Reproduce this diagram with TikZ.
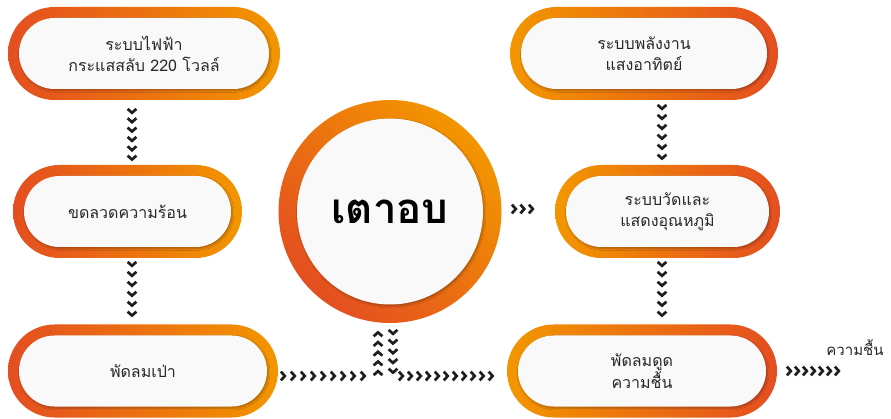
\documentclass[tikz,border=0pt]{standalone}
\usepackage{fontspec}
\newfontfamily\thai[Script=Thai]{Loma}
\usetikzlibrary{shapes.misc,decorations.markings,shadows.blur,calc}
\definecolor{cR}{RGB}{228,78,32}
\definecolor{cY}{RGB}{243,150,0}
\definecolor{cIn}{RGB}{249,249,249}
\definecolor{cChev}{RGB}{30,30,30}
\definecolor{cTxt}{RGB}{40,40,40}
\tikzset{
  ringout/.style={rounded rectangle, inner sep=0pt, outer sep=0pt, draw=none},
  ringin/.style={rounded rectangle, inner sep=0pt, outer sep=0pt, fill=cIn, text=cTxt,
    font=\thai\fontsize{16}{21}\selectfont, align=center,
    blur shadow={shadow xshift=1.2pt, shadow yshift=-1.6pt, shadow blur steps=6, shadow opacity=28}},
  chevs/.style={decoration={markings, mark=between positions 0 and 1 step #1 with
    {\draw[cChev, line width=2.7pt, line cap=butt, line join=miter] (-3.1pt,4.4pt) -- (0.8pt,0pt) -- (-3.1pt,-4.4pt);}}, decorate}
}
\begin{document}
\begin{tikzpicture}[x=1pt,y=-1pt]
\useasboundingbox (0,0) rectangle (891,419);
\fill[white] (0,0) rectangle (891,419);
% left column
\node[ringout, minimum width=272pt, minimum height=93pt, left color=cR, right color=cY] (p1o) at (144,53.5) {};
\node[ringin, minimum width=250pt, minimum height=71pt] (p1) at (p1o) {ระบบไฟฟ้า\\กระแสสลับ 220 โวลล์};
\node[ringout, minimum width=229pt, minimum height=93pt, left color=cR, right color=cY] (p2o) at (127.5,211.5) {};
\node[ringin, minimum width=207pt, minimum height=71pt] (p2) at (p2o) {ขดลวดความร้อน};
\node[ringout, minimum width=270pt, minimum height=93pt, left color=cR, right color=cY] (p3o) at (143,371) {};
\node[ringin, minimum width=248pt, minimum height=71pt] (p3) at (p3o) {พัดลมเป่า};
% right column
\node[ringout, minimum width=268pt, minimum height=93pt, left color=cY, right color=cR] (p4o) at (644,53.5) {};
\node[ringin, minimum width=246pt, minimum height=71pt] (p4) at (p4o) {ระบบพลังงาน\\แสงอาทิตย์};
\node[ringout, minimum width=225pt, minimum height=93pt, left color=cY, right color=cR] (p5o) at (667.5,211.5) {};
\node[ringin, minimum width=203pt, minimum height=71pt] (p5) at (p5o) {ระบบวัดและ\\แสดงอุณหภูมิ};
\node[ringout, minimum width=270pt, minimum height=93pt, left color=cY, right color=cR] (p6o) at (642,371) {};
\node[ringin, minimum width=248pt, minimum height=71pt] (p6) at (p6o) {พัดลมดูด\\ความชื้น};
% oven
\node[circle, inner sep=0pt, outer sep=0pt, minimum size=223pt, shading=axis, top color=cY, bottom color=cR, shading angle=-45] (co) at (390,211.5) {};
\node[circle, inner sep=0pt, outer sep=0pt, minimum size=186pt, fill=cIn, text=black,
  blur shadow={shadow xshift=1.2pt, shadow yshift=-1.6pt, shadow blur steps=6, shadow opacity=28},
  font=\thai\bfseries\fontsize{42}{46}\selectfont] (oven) at (co) {เตาอบ};
% label
\node[font=\thai\fontsize{15}{18}\selectfont, text=cTxt, inner sep=0pt] (hum) at (855,348) {ความชื้น};
% coordinates of chevron columns
\coordinate (colL) at (132,0);
\coordinate (colR) at (662,0);
\coordinate (rowB) at (0,376);
\coordinate (upC) at (378,0);
\coordinate (dnC) at (393,0);
% chains
\path[chevs=9.35pt] ($(p1o.south -| colL)+(0,12)$) -- ($(p2o.north -| colL)+(0,-6)$);
\path[chevs=9.95pt] ($(p2o.south -| colL)+(0,7)$) -- ($(p3o.north -| colL)+(0,-9.5)$);
\path[chevs=9.95pt] ($(p4o.south -| colR)+(0,8)$) -- ($(p5o.north -| colR)+(0,-7)$);
\path[chevs=9.95pt] ($(p5o.south -| colR)+(0,7)$) -- ($(p6o.north -| colR)+(0,-9.5)$);
% bottom T junction
\path[chevs=9.98pt] ($(p3o.east |- rowB)+(6,0)$) -- ($(upC |- rowB)+(-14,0)$);
\path[chevs=9.7pt] ($(upC |- rowB)+(0,-4)$) -- ($(upC |- co.south)+(0,10)$);
\path[chevs=9.7pt] ($(dnC |- co.south)+(0,10)$) -- ($(dnC |- rowB)+(0,-4)$);
\path[chevs=8.98pt] ($(dnC |- rowB)+(9,0)$) -- ($(p6o.west |- rowB)+(-15,0)$);
% oven to measuring
\path[chevs=8.5pt] ($(co.east |- oven.center)+(13.5,-2.5)$) -- ($(co.east |- oven.center)+(30.6,-2.5)$);
% exit
\path[chevs=8pt] ($(p6o.east)+(13,0)$) -- ($(p6o.east)+(61.05,0)$);
\end{tikzpicture}
\end{document}
